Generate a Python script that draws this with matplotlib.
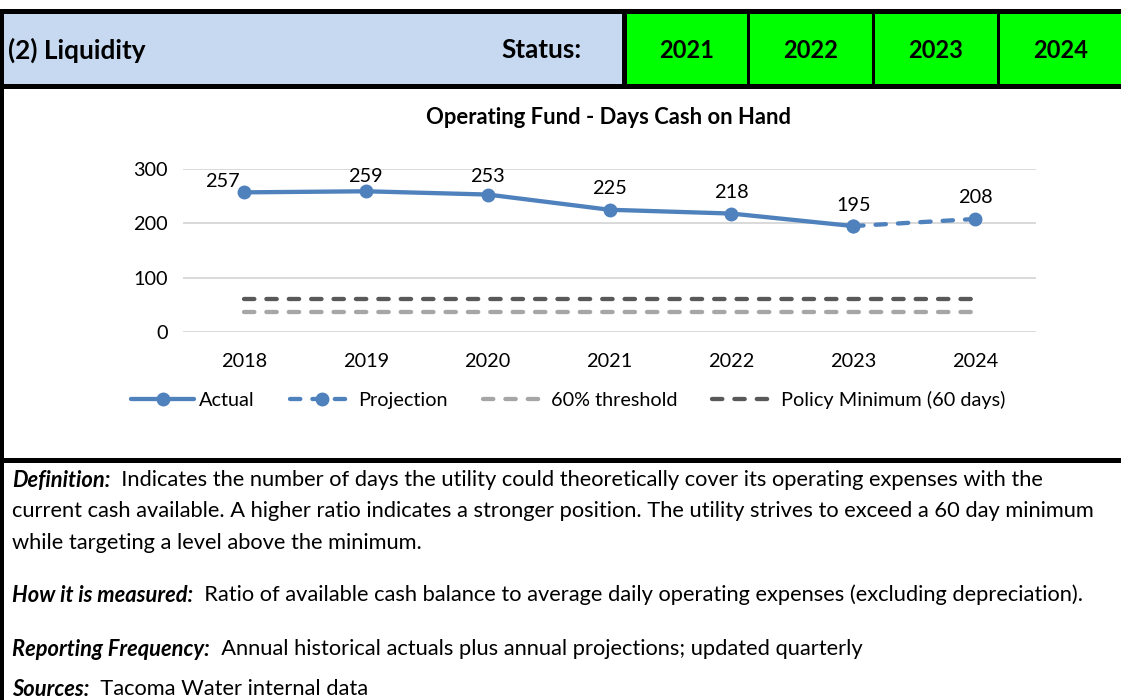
import matplotlib
matplotlib.use("Agg")
import matplotlib.pyplot as plt
from matplotlib.patches import Rectangle

# data
years = ["2018", "2019", "2020", "2021", "2022", "2023", "2024"]
actual = [257, 259, 253, 225, 218, 195]          # 2018-2023
projection = [195, 208]                          # 2023-2024
policy_min = 60
threshold_60 = 36
status_years = ["2021", "2022", "2023", "2024"]

W, H = 1121, 700
FONT = "Lato"
BLUE = "#4F81BD"
DARK = "#595959"
LIGHT = "#A6A6A6"
TXT = 15.75    # description text size
CH = 14.3      # chart text size

plt.rcParams["font.family"] = [FONT, "DejaVu Sans"]

fig = plt.figure(figsize=(W / 100, H / 100), dpi=100)
fig.patch.set_facecolor("white")

# background axes in pixel coords for the table frame and texts
bg = fig.add_axes([0, 0, 1, 1])
bg.set_xlim(0, W)
bg.set_ylim(H, 0)
bg.axis("off")

# header row
bg.add_patch(Rectangle((0, 9), W, 80, color="black", lw=0))
bg.add_patch(Rectangle((4, 14), 618, 70, color="#C6D9F1", lw=0))
cells = [(627, 747), (750, 872), (875, 997), (1000, W)]
for (x0, x1), yr in zip(cells, status_years):
    bg.add_patch(Rectangle((x0, 14), x1 - x0, 70, color="#00FF00", lw=0))
    bg.text((x0 + x1) / 2, 50, yr, ha="center", va="center",
            fontsize=17, fontweight="bold")
bg.text(8, 50, "(2) Liquidity", ha="left", va="center", fontsize=18.8, fontweight="bold")
bg.text(582, 50, "Status:", ha="right", va="center", fontsize=18.8, fontweight="bold")

# left border and separator under the chart
bg.add_patch(Rectangle((0, 9), 4, H - 9, color="black", lw=0))
bg.add_patch(Rectangle((0, 458), W, 5, color="black", lw=0))

# chart title
bg.text(608, 117, "Operating Fund - Days Cash on Hand", ha="center", va="center",
        fontsize=15.8, fontweight="bold")

# description texts
def label_line(y, head, rest):
    t = bg.text(12, y, head, ha="left", va="center", fontsize=TXT,
                fontweight="bold", fontstyle="italic")
    bg.annotate("  " + rest, xy=(1, 0.5), xycoords=t, ha="left", va="center",
                fontsize=TXT)

label_line(480, "Definition:", "Indicates the number of days the utility could theoretically cover its operating expenses with the")
bg.text(12, 511, "current cash available. A higher ratio indicates a stronger position. The utility strives to exceed a 60 day minimum",
        ha="left", va="center", fontsize=TXT)
bg.text(12, 543, "while targeting a level above the minimum.", ha="left", va="center", fontsize=TXT)
label_line(595, "How it is measured:", "Ratio of available cash balance to average daily operating expenses (excluding depreciation).")
label_line(649, "Reporting Frequency:", "Annual historical actuals plus annual projections; updated quarterly")
label_line(689, "Sources:", "Tacoma Water internal data")

# chart axes
left, right, top, bottom = 183, 1036, 169, 332
ax = fig.add_axes([left / W, 1 - bottom / H, (right - left) / W, (bottom - top) / H])
ax.patch.set_alpha(0)
x = list(range(len(years)))

dash = (0, (2.4, 2.8))
ax.plot(x, [threshold_60] * len(x), color=LIGHT, lw=3.1, ls=dash,
        dash_capstyle="round", label="60% threshold", zorder=2)
ax.plot(x, [policy_min] * len(x), color=DARK, lw=3.1, ls=dash,
        dash_capstyle="round", label="Policy Minimum (60 days)", zorder=2)
ax.plot(x[:len(actual)], actual, color=BLUE, lw=3.1, marker="o", ms=9,
        solid_capstyle="round", label="Actual", zorder=3)
ax.plot(x[len(actual) - 1:], projection, color=BLUE, lw=3.1, ls=dash,
        dash_capstyle="round", marker="o", ms=9, label="Projection", zorder=3)

ax.set_xlim(-0.5, len(years) - 0.5)
ax.set_ylim(0, 300)
ax.set_yticks([0, 100, 200, 300])
ax.set_xticks(x)
ax.set_xticklabels(years)
ax.tick_params(length=0, labelsize=CH, pad=15)
ax.tick_params(axis="y", pad=11)
ax.grid(axis="y", color="#D9D9D9", lw=1.4)
ax.set_axisbelow(True)
for s in ax.spines.values():
    s.set_visible(False)

values = actual + projection[1:]
for i, v in enumerate(values):
    if i == 0:
        off = (-22, 11)
    else:
        py = bottom - v * (bottom - top) / 300
        off = (0, min(21, py - 176))
    ax.annotate(str(v), (i, v), xytext=off, textcoords="offset pixels",
                ha="center", va="center", fontsize=CH)

h, l = ax.get_legend_handles_labels()
order = [2, 3, 0, 1]
fig.legend([h[i] for i in order], [l[i] for i in order], loc="center",
           bbox_to_anchor=(568 / W, 1 - 400 / H), ncol=4, frameon=False,
           fontsize=CH, handlelength=3.2, handletextpad=0.25, columnspacing=1.75)

fig.savefig("out.png", dpi=100)
